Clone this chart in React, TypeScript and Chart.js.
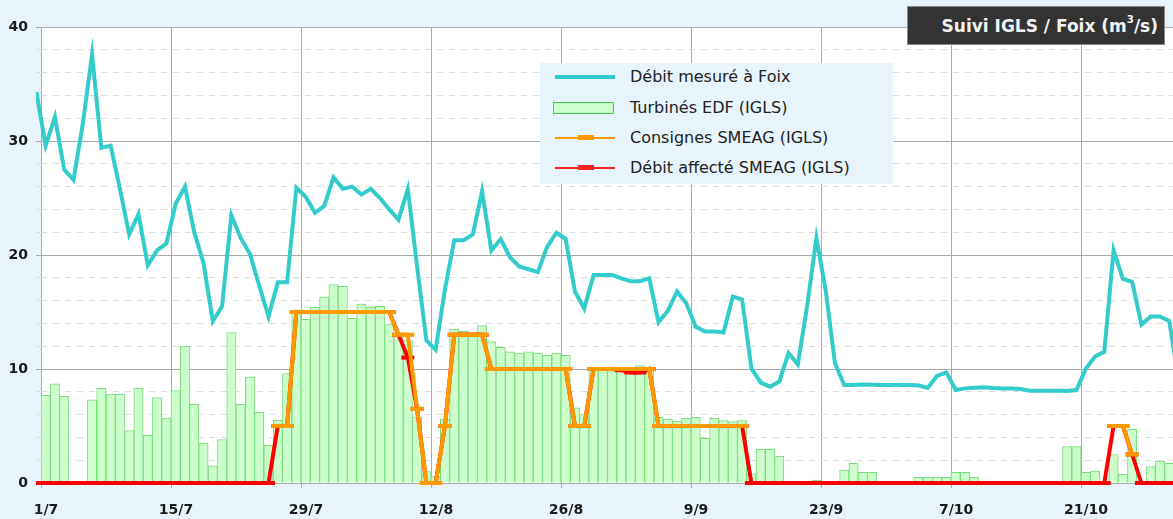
import React, { useEffect, useRef } from 'react';
import { Chart, registerables } from 'chart.js';

Chart.register(...registerables);

// Day 0 = 1/7. Values are daily (plotted at mid-day).
// Débit mesuré à Foix, from 30/6 (day -1) to day 122
const foixFirstDay = -1;
const foixFlow = [
  34.3,
  29.6, 32.1, 27.5, 26.6, 31.5, 37.6, 29.4, 29.6, 25.8, 21.8,
  23.6, 19.1, 20.4, 21.0, 24.5, 26.0, 22.0, 19.3, 14.2, 15.5,
  23.5, 21.5, 20.1, 17.3, 14.6, 17.6, 17.6, 25.9, 25.1, 23.7,
  24.3, 26.8, 25.8, 26.0, 25.3, 25.8, 25.0, 24.0, 23.1, 25.8,
  19.0, 12.5, 11.7, 17.0, 21.3, 21.3, 21.8, 25.6, 20.4, 21.4,
  19.8, 19.0, 18.75, 18.5, 20.7, 21.95, 21.4, 16.8, 15.3, 18.25,
  18.25, 18.25, 17.95, 17.7, 17.7, 17.95, 14.1, 15.1, 16.8, 15.75,
  13.7, 13.3, 13.3, 13.2, 16.35, 16.1, 10.05, 8.8, 8.45, 8.9,
  11.4, 10.4, 15.5, 21.5, 16.9, 10.5, 8.6, 8.6, 8.65, 8.62,
  8.6, 8.6, 8.6, 8.6, 8.55, 8.36, 9.4, 9.7, 8.16, 8.3,
  8.36, 8.39, 8.33, 8.3, 8.3, 8.25, 8.1, 8.1, 8.1, 8.1,
  8.07, 8.15, 10.0, 11.1, 11.5, 20.4, 17.9, 17.65, 13.9, 14.6,
  14.6, 14.2, 9.0,
];

// Turbinés EDF (IGLS), day 0 .. 121
const turbinesFirstDay = 0;
const turbinesEDF = [
  7.7, 8.7, 7.6, null, null, 7.3, 8.3, 7.8, 7.8, 4.6,
  8.3, 4.2, 7.5, 5.7, 8.1, 12.0, 6.9, 3.5, 1.5, 3.8,
  13.2, 6.9, 9.3, 6.2, 3.3, 5.5, 9.6, 15.2, 14.35, 15.4,
  16.3, 17.4, 17.25, 14.45, 15.7, 15.4, 15.5, 13.9, 13.0, 12.5,
  5.8, 1.0, 0.6, 5.6, 13.5, 13.3, 13.0, 13.8, 12.4, 11.9,
  11.5, 11.4, 11.5, 11.4, 11.2, 11.4, 11.2, 6.6, 6.0, 10.1,
  10.0, 10.2, 10.0, 10.0, 10.3, 10.0, 5.76, 5.6, 5.44, 5.67,
  5.76, 3.92, 5.67, 5.47, 5.38, 5.47, 0.8, 2.95, 2.95, 2.37,
  null, null, null, 0.26, null, null, 1.14, 1.72, 0.94, 0.94,
  null, null, null, null, 0.5, 0.5, 0.5, 0.5, 0.94, 0.94,
  0.5, null, null, null, null, null, null, null, null, null,
  3.19, 3.19, 0.94, 1.05, null, 2.5, 0.76, 4.7, null, 1.43,
  1.93, 1.72,
];

// Consignes SMEAG (IGLS), day 0 .. 121
const consignesFirstDay = 0;
const consignesSMEAG = [
  null, null, null, null, null, null, null, null, null, null,
  null, null, null, null, null, null, null, null, null, null,
  null, null, null, null, null, 5, 5, 15, 15, 15,
  15, 15, 15, 15, 15, 15, 15, 15, 13, 13,
  6.5, 0, 0, 5, 13, 13, 13, 13, 10, 10,
  10, 10, 10, 10, 10, 10, 10, 5, 5, 10,
  10, 10, 10, 10, 10, 10, 5, 5, 5, 5,
  5, 5, 5, 5, 5, 5, null, null, null, null,
  null, null, null, null, null, null, null, null, null, null,
  null, null, null, null, null, null, null, null, null, null,
  null, null, null, null, null, null, null, null, null, null,
  null, null, null, null, null, 5, 5, 2.5, null, null,
  null, null,
];

// Débit affecté SMEAG (IGLS), day -1 .. 122
const affecteFirstDay = -1;
const debitAffecteSMEAG = [
  0,
  0, 0, 0, 0, 0, 0, 0, 0, 0, 0,
  0, 0, 0, 0, 0, 0, 0, 0, 0, 0,
  0, 0, 0, 0, 0, 5, 5, 15, 15, 15,
  15, 15, 15, 15, 15, 15, 15, 15, 13, 11,
  6.5, 0, 0, 5, 13, 13, 13, 13, 10, 10,
  10, 10, 10, 10, 10, 10, 10, 5, 5, 10,
  10, 10, 9.9, 9.7, 9.7, 10, 5, 5, 5, 5,
  5, 5, 5, 5, 5, 5, 0, 0, 0, 0,
  0, 0, 0, 0, 0, 0, 0, 0, 0, 0,
  0, 0, 0, 0, 0, 0, 0, 0, 0, 0,
  0, 0, 0, 0, 0, 0, 0, 0, 0, 0,
  0, 0, 0, 0, 0, 5, 5, 2.5, 0, 0,
  0, 0, 0,
];

const xTickDays = [0, 14, 28, 42, 56, 70, 84, 98, 112];
const xTickLabels = ['1/7', '15/7', '29/7', '12/8', '26/8', '9/9', '23/9', '7/10', '21/10'];
const yTickLabels = [0, 10, 20, 30, 40];

const BG = '#E8F4FC';
const tickFont = { family: 'DejaVu Sans', size: 14, weight: 'bold' as const };

function toPoints(values: (number | null)[], firstDay: number) {
  return values.map((v, k) => ({ x: firstDay + k + 0.5, y: v }));
}

export default function App() {
  const ref = useRef<HTMLCanvasElement>(null);

  useEffect(() => {
    if (!ref.current) return;
    const plotBg = {
      id: 'plotBg',
      beforeDraw(chart: any) {
        const { ctx, chartArea: a } = chart;
        ctx.save();
        ctx.fillStyle = '#FFFFFF';
        ctx.fillRect(a.left, a.top, a.right - a.left, a.bottom - a.top);
        ctx.restore();
      },
    };
    const lineClip = { left: 5, top: 5, right: 0, bottom: 5 };
    const chart = new Chart(ref.current, {
      type: 'line',
      data: {
        datasets: [
          {
            type: 'line',
            label: 'Débit mesuré à Foix',
            data: toPoints(foixFlow, foixFirstDay),
            borderColor: '#33CCCC',
            borderWidth: 4,
            pointRadius: 0,
            tension: 0,
            order: 0,
            clip: lineClip,
          } as any,
          {
            type: 'line',
            label: 'Consignes SMEAG (IGLS)',
            data: toPoints(consignesSMEAG, consignesFirstDay),
            borderColor: '#FF9900',
            borderWidth: 4,
            pointStyle: 'line',
            pointRadius: 6.5,
            pointBorderWidth: 4,
            pointBorderColor: '#FF9900',
            pointBackgroundColor: '#FF9900',
            tension: 0,
            spanGaps: false,
            order: 1,
            clip: lineClip,
          } as any,
          {
            type: 'line',
            label: 'Débit affecté SMEAG (IGLS)',
            data: toPoints(debitAffecteSMEAG, affecteFirstDay),
            borderColor: '#FF0000',
            borderWidth: 4,
            pointStyle: 'line',
            pointRadius: 6.5,
            pointBorderWidth: 4,
            pointBorderColor: '#FF0000',
            pointBackgroundColor: '#FF0000',
            tension: 0,
            order: 2,
            clip: lineClip,
          } as any,
          {
            type: 'bar',
            label: 'Turbinés EDF (IGLS)',
            data: toPoints(turbinesEDF, turbinesFirstDay),
            backgroundColor: '#CCFFCC',
            borderColor: '#7ADB7A',
            borderWidth: 1,
            barPercentage: 1,
            categoryPercentage: 1,
            order: 3,
          } as any,
        ],
      },
      options: {
        animation: false,
        responsive: false,
        devicePixelRatio: 1,
        events: [],
        layout: { autoPadding: false, padding: { top: 27, left: 0, right: 0, bottom: 0 } },
        plugins: {
          legend: { display: false },
          tooltip: { enabled: false },
        },
        scales: {
          x: {
            type: 'linear',
            min: 0,
            max: 121.9,
            offset: false,
            afterFit: (s: any) => { s.height = 36; },
            afterBuildTicks: (s: any) => { s.ticks = xTickDays.map((v) => ({ value: v })); },
            ticks: {
              stepSize: 14,
              includeBounds: false,
              autoSkip: false,
              maxRotation: 0,
              labelOffset: 5,
              padding: 14,
              color: '#1A1A1A',
              font: tickFont,
              callback: (v: any) => {
                const k = xTickDays.indexOf(Number(v));
                return k >= 0 ? xTickLabels[k] : '';
              },
            },
            grid: { color: '#AAAAAA', lineWidth: 1, tickLength: 5, offset: false },
            border: { display: false },
          },
          y: {
            type: 'linear',
            min: 0,
            max: 40,
            afterFit: (s: any) => { s.width = 41; },
            ticks: {
              stepSize: 2,
              padding: 8,
              color: '#1A1A1A',
              font: tickFont,
              callback: (v: any) => (yTickLabels.includes(Number(v)) ? String(v) : ''),
            },
            grid: {
              color: (c: any) => (c.tick && c.tick.value % 10 === 0 ? '#AAAAAA' : '#DDDDDD'),
              lineWidth: 1,
              tickLength: 5,
            },
            border: {
              display: false,
              dash: (c: any) => (c.tick && c.tick.value % 10 !== 0 ? [6, 6] : []),
            },
          },
        } as any,
      },
      plugins: [plotBg],
    });
    return () => chart.destroy();
  }, []);

  const legendRows = [
    { label: 'Débit mesuré à Foix', kind: 'cyan', center: 14 },
    { label: 'Turbinés EDF (IGLS)', kind: 'bar', center: 44.5 },
    { label: 'Consignes SMEAG (IGLS)', kind: 'orange', center: 74.5 },
    { label: 'Débit affecté SMEAG (IGLS)', kind: 'red', center: 104.5 },
  ];

  const symbol = (kind: string) => {
    if (kind === 'cyan') {
      return <div style={{ position: 'absolute', left: 15, top: 8, width: 60, height: 4, background: '#33CCCC' }} />;
    }
    if (kind === 'bar') {
      return <div style={{ position: 'absolute', left: 13, top: 4, width: 59, height: 10, background: '#CCFFCC', border: '1px solid #44CC44' }} />;
    }
    const c = kind === 'orange' ? '#FF9900' : '#FF2222';
    return (
      <>
        <div style={{ position: 'absolute', left: 15, top: 9, width: 60, height: 2, background: c }} />
        <div style={{ position: 'absolute', left: 38, top: 7.5, width: 16, height: 5, background: c }} />
      </>
    );
  };

  return (
    <div style={{ position: 'fixed', left: 0, top: 0, width: 1173, height: 519, background: BG, overflow: 'hidden' }}>
      <canvas ref={ref} width={1173} height={519} style={{ position: 'absolute', left: 0, top: 0, width: 1173, height: 519 }} />
      <div
        style={{
          position: 'absolute', left: 540, top: 63, width: 353, height: 121,
          background: BG, fontFamily: 'DejaVu Sans', fontSize: 16, color: '#222222',
        }}
      >
        {legendRows.map((r) => (
          <div key={r.label} style={{ position: 'absolute', left: 0, top: r.center - 10, width: 353, height: 20 }}>
            {symbol(r.kind)}
            <div style={{ position: 'absolute', left: 90, top: 0, height: 20, lineHeight: '20px', whiteSpace: 'nowrap' }}>{r.label}</div>
          </div>
        ))}
      </div>
      <div
        style={{
          position: 'absolute', left: 907, top: 6, width: 258, height: 39, boxSizing: 'border-box',
          background: '#333333', border: '1px solid #8A8A8A', color: '#F2F2F2',
          fontFamily: 'DejaVu Sans', fontWeight: 'bold', fontSize: 17,
          display: 'flex', alignItems: 'center', justifyContent: 'flex-end', paddingRight: 6, whiteSpace: 'nowrap',
        }}
      >
        <span>Suivi IGLS / Foix (m<sup style={{ fontSize: '0.6em', verticalAlign: 'top', position: 'relative', top: -2 }}>3</sup>/s)</span>
      </div>
    </div>
  );
}
